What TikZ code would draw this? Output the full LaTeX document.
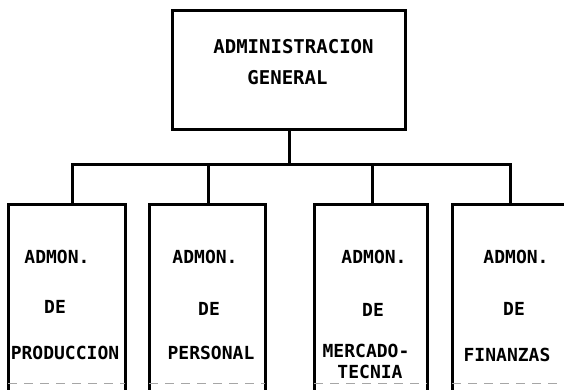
\documentclass[tikz,border=0pt]{standalone}
\usepackage{fontspec}
\newfontfamily\orgfont{DejaVu Sans Mono}
\begin{document}
\begin{tikzpicture}[x=1pt,y=-1pt,
  conn/.style={line width=3pt, line cap=rect, line join=miter},
  topbox/.style={draw, line width=3pt, minimum width=233pt, minimum height=119pt, inner sep=0pt},
  unitbox/.style={minimum height=190pt, inner sep=0pt, outer sep=0pt},
  toptxt/.style={font=\orgfont\bfseries\fontsize{19}{21}\selectfont, inner sep=0pt},
  unittxt/.style={font=\orgfont\bfseries\fontsize{18}{20}\selectfont, inner sep=0pt},
  bottomline/.style={draw=black!35, line width=0.8pt, dash pattern=on 9pt off 7pt}
]
\useasboundingbox (0,0) rectangle (564,389);
\fill[white] (0,0) rectangle (564,389);

% top box
\node[topbox] (top) at (289,69.5) {};
\node[toptxt] (t1) at (293.5,47) {ADMINISTRACION};
\node[toptxt] (t2) at (287.5,77.5) {GENERAL};

% unit boxes (open at the bottom edge)
\node[unitbox, minimum width=117pt] (b1) at (66.5,299) {};
\node[unitbox, minimum width=116pt] (b2) at (207,299) {};
\node[unitbox, minimum width=113pt] (b3) at (370.5,299) {};
\node[unitbox, minimum width=124pt] (b4) at (514,299) {};

\foreach \b in {b1,b2,b3,b4}{
  \draw[conn] (\b.south west) -- (\b.north west) -- (\b.north east) -- (\b.south east);
  \draw[bottomline] ([yshift=11pt]\b.south west) -- ([yshift=11pt]\b.south east);
}

% connectors
\coordinate (d1) at (72,164);
\coordinate (d2) at (208,164);
\coordinate (d3) at (372,164);
\coordinate (d4) at (510,164);
\draw[conn] (top.south) -- (top.south |- d1);
\draw[conn] (d1) -- (d4);
\draw[conn] (d1) -- (d1 |- b1.north);
\draw[conn] (d2) -- (d2 |- b2.north);
\draw[conn] (d3) -- (d3 |- b3.north);
\draw[conn] (d4) -- (d4 |- b4.north);

% texts
\node[unittxt] (a1) at (57,257) {ADMON.};
\node[unittxt] (e1) at (55,307) {DE};
\node[unittxt] (p1) at (65,353) {PRODUCCION};

\node[unittxt] (a2) at (205,257) {ADMON.};
\node[unittxt] (e2) at (209,309) {DE};
\node[unittxt] (p2) at (211,353) {PERSONAL};

\node[unittxt] (a3) at (374,257) {ADMON.};
\node[unittxt] (e3) at (373,310) {DE};
\node[unittxt] (p3) at (366,351) {MERCADO-};
\node[unittxt] (q3) at (370,372) {TECNIA};

\node[unittxt] (a4) at (516,257) {ADMON.};
\node[unittxt] (e4) at (514,309) {DE};
\node[unittxt] (p4) at (507,355) {FINANZAS};
\end{tikzpicture}
\end{document}
